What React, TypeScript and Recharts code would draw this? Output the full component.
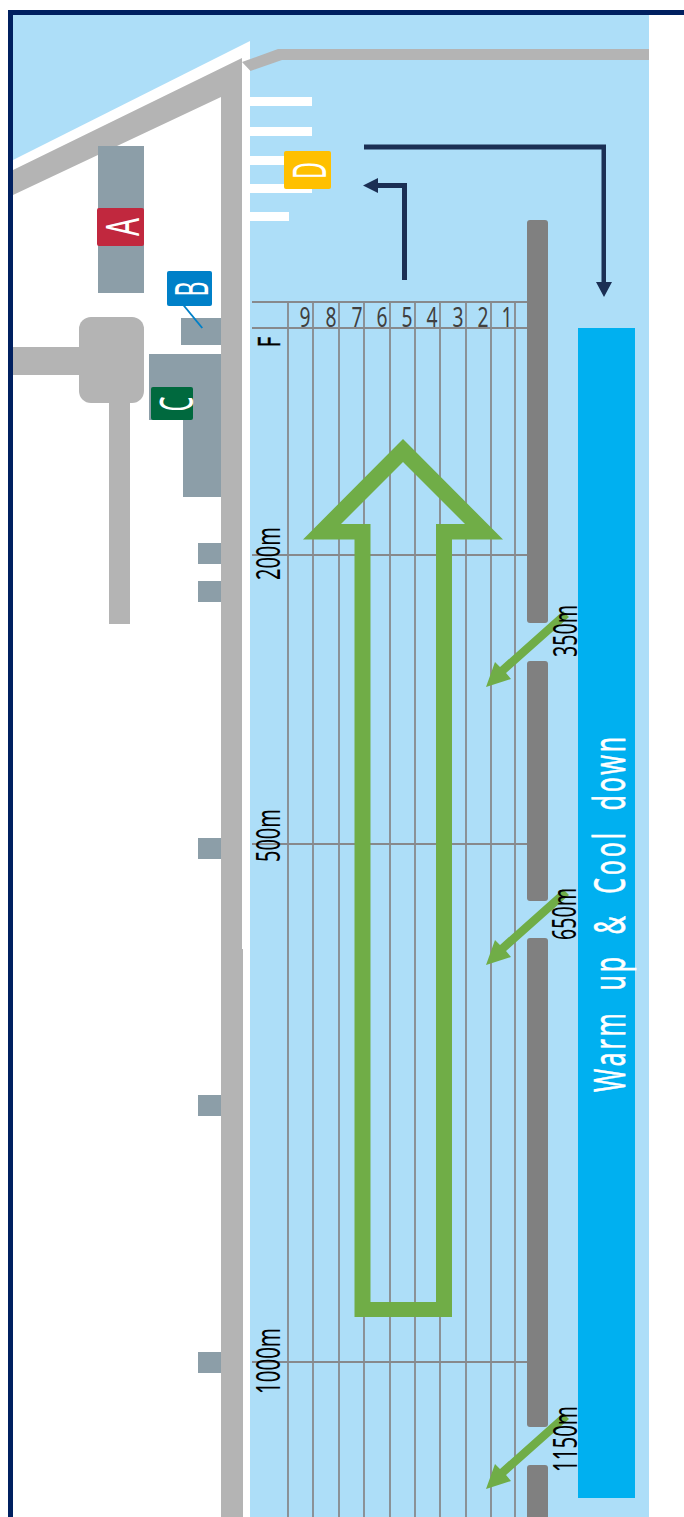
import React from "react";
import { ScatterChart, Scatter, XAxis, YAxis, Rectangle } from "recharts";

type P = [number, number];
const W = 684;
const H = 1517;

// Scene geometry, all in chart units
const waterArea: P[] = [[13, 15], [649, 15], [649, 1517], [13, 1517]];
const landArea: P[] = [[13, 160], [250, 41], [250, 1517], [13, 1517]];
const embankment: P[] = [[13, 170], [242, 58], [242, 949], [243, 949], [243, 1517], [221, 1517], [221, 97], [13, 195]];
const pier: P[] = [[242, 62], [278, 49], [649, 49], [649, 60], [282, 60], [250.5, 71]];
const dockSpans: number[][] = [[97, 106, 312], [127, 136, 312], [156, 165, 312], [184, 193, 312], [212, 221, 289]];
const buildingRects: number[][] = [
  [98, 146, 144, 293], [181, 318, 221, 345], [198, 543, 221, 564], [198, 581, 221, 602],
  [198, 838, 221, 859], [198, 1095, 221, 1116], [198, 1352, 221, 1373],
];
const buildingC: P[] = [[149, 354], [221, 354], [221, 497], [183, 497], [183, 420], [149, 420]];
const roadRects: number[][] = [[13, 347, 80, 375], [109, 400, 130, 624]];
const plaza: number[] = [79, 317, 144, 403];

const laneLineX = [288, 313, 339, 364, 390, 415, 440, 466, 491, 515];
const laneNumbers = ["9", "8", "7", "6", "5", "4", "3", "2", "1"];
const laneNumberX = [305, 331, 357, 382, 407, 432, 458, 483, 507];
const distanceLineY = [302, 328, 555, 844, 1362];

const railSpans: number[][] = [[220, 623], [661, 901], [938, 1427], [1465, 1530]];
const warmUpLane: number[] = [578, 328, 635, 1498];

const bigArrow: P[] = [
  [403, 439], [503, 539.5], [452, 539.5], [452, 1317], [354.5, 1317], [354.5, 539.5], [303, 539.5],
  [403, 439], [403, 462], [341, 524], [370.5, 524], [370.5, 1302], [436, 1302], [436, 524], [465, 524], [403, 462],
];
const exitArrowTipY = [687, 965, 1489];
const exitArrowShape: P[] = [[486, 0], [495, -25], [500, -20], [563, -76], [569, -70], [506, -14], [511, -8]];
const navyArrowLong: P[] = [[364, 144.5], [606, 144.5], [606, 282], [612, 282], [604, 297], [596, 282], [601.5, 282], [601.5, 149.5], [364, 149.5]];
const navyArrowShort: P[] = [[407, 280], [407, 183], [378, 183], [378, 178], [363, 185.5], [378, 193], [378, 188], [402, 188], [402, 280]];
const borderLeft: number[] = [8, 10, 13, 1517];
const borderTop: number[] = [8, 10, 684, 15];
const leaderB: P[] = [[183, 306], [184.5, 305], [203, 327.5], [201.5, 328.5]];

const badgeRects: number[][] = [[97, 208, 144, 246], [167, 271, 212, 306], [151, 387, 193, 420], [284, 151, 331, 189]];
const badgeColors = ["#c1283e", "#0080c8", "#00693e", "#ffc000"];
const badgeLetters = ["A", "B", "C", "D"];
const badgeLetterPos: P[] = [[139, 227], [207.5, 289], [192.5, 404], [325.5, 170.5]];
const badgeLetterLen = [18, 15, 15, 17];

const distanceLabels = ["200m", "500m", "1000m", "350m", "650m", "1150m"];
const distanceLabelPos: P[] = [[280, 553.5], [280, 835.5], [280, 1361], [577, 631], [576, 914], [577, 1439]];
const distanceLabelLen = [53, 53, 66, 52, 52, 66];

const NAVY = "#002060";
const GREY = "#b4b4b4";
const BLDG = "#8c9ea8";
const LINE = "#87898c";
const GREEN = "#70ad47";
const FONT = "'Noto Sans', 'Open Sans', sans-serif";

const toData = (pts: P[]) => pts.map(([x, y]) => ({ x, y }));
const box = (r: number[]): P[] => [[r[0], r[1]], [r[2], r[1]], [r[2], r[3]], [r[0], r[3]]];
const noDot = () => <g />;

const polyLine = (fill: string) => (p: any) => (
  <path
    d={"M" + p.points.map((q: any) => `${q.x},${q.y}`).join("L") + "Z"}
    fill={fill}
    stroke="none"
    fillRule="evenodd"
  />
);
const roundLine = (fill: string, radius: number) => (p: any) => {
  const [a, b, c] = [p.points[0], p.points[1], p.points[2]];
  return <Rectangle x={a.x} y={a.y} width={b.x - a.x} height={c.y - a.y} radius={radius} fill={fill} stroke="none" />;
};

const Poly = (pts: P[], fill: string, key: string) => (
  <Scatter key={key} data={toData(pts)} line={polyLine(fill)} lineJointType="linear" shape={noDot} isAnimationActive={false} />
);
const Round = (r: number[], fill: string, radius: number, key: string) => (
  <Scatter key={key} data={toData(box(r))} line={roundLine(fill, radius)} shape={noDot} isAnimationActive={false} />
);
const Label = (pos: P, text: string, len: number, size: number, fill: string, key: string, extra: React.CSSProperties = {}) => (
  <Scatter
    key={key}
    data={toData([pos])}
    isAnimationActive={false}
    shape={(p: any) => (
      <text
        transform={`rotate(-90 ${p.cx} ${p.cy})`}
        x={p.cx}
        y={p.cy}
        textAnchor="middle"
        fontFamily={FONT}
        fontSize={size}
        fill={fill}
        textLength={len}
        lengthAdjust="spacingAndGlyphs"
        style={extra}
      >
        {text}
      </text>
    )}
  />
);
const Digit = (x: number, text: string, key: string) => (
  <Scatter
    key={key}
    data={[{ x, y: 327 }]}
    isAnimationActive={false}
    shape={(p: any) => (
      <text
        x={p.cx}
        y={p.cy}
        textAnchor="middle"
        fontFamily={FONT}
        fontSize={28}
        fill="#404040"
        textLength={11}
        lengthAdjust="spacingAndGlyphs"
      >
        {text}
      </text>
    )}
  />
);

export default function App() {
  return (
    <div style={{ position: "absolute", left: 0, top: 0, width: W, height: H, overflow: "hidden" }}>
      <ScatterChart width={W} height={H} margin={{ top: 0, right: 0, bottom: 0, left: 0 }}>
        <XAxis type="number" dataKey="x" domain={[0, W]} hide allowDataOverflow />
        <YAxis type="number" dataKey="y" domain={[0, H]} reversed hide allowDataOverflow />

        {Poly(waterArea, "#addef8", "water")}
        {Poly(landArea, "#ffffff", "land")}
        {Poly(embankment, GREY, "embankment")}
        {Poly(pier, GREY, "pier")}
        {dockSpans.map((d, i) => Poly(box([250, d[0], d[2], d[1]]), "#ffffff", `dock${i}`))}
        {roadRects.map((r, i) => Poly(box(r), GREY, `road${i}`))}
        {Round(plaza, GREY, 12, "plaza")}
        {buildingRects.map((r, i) => Poly(box(r), BLDG, `bldg${i}`))}
        {Poly(buildingC, BLDG, "bldgC")}

        {laneLineX.map((x, i) => Poly(box([x - 0.9, 302, x + 0.9, 1517]), LINE, `lane${i}`))}
        {distanceLineY.map((y, i) => Poly(box([252, y - 0.9, 527, y + 0.9]), LINE, `dist${i}`))}

        {railSpans.map((s, i) => Round([527, s[0], 548, s[1]], "#808080", 3, `rail${i}`))}
        {Poly(box(warmUpLane), "#00b0f0", "warmup")}

        {Poly(bigArrow, GREEN, "bigArrow")}
        {exitArrowTipY.map((tip, i) =>
          Poly(exitArrowShape.map(([x, dy]) => [x, tip + dy] as P), GREEN, `exit${i}`)
        )}
        {Poly(navyArrowLong, "#1b2f54", "navyLong")}
        {Poly(navyArrowShort, "#1b2f54", "navyShort")}

        {Poly(box(borderLeft), NAVY, "borderL")}
        {Poly(box(borderTop), NAVY, "borderT")}

        {Poly(leaderB, "#0080c8", "leaderB")}
        {badgeRects.map((r, i) => Round(r, badgeColors[i], 2, `badge${i}`))}
        {badgeLetters.map((t, i) => Label(badgeLetterPos[i], t, badgeLetterLen[i], 45, "#ffffff", `letter${i}`))}

        {laneNumbers.map((t, i) => Digit(laneNumberX[i], t, `num${i}`))}
        {distanceLabels.map((t, i) => Label(distanceLabelPos[i], t, distanceLabelLen[i], 32, "#000000", `distLabel${i}`))}
        {Label([279.5, 342], "F", 10.5, 31, "#000000", "finish", { stroke: "#000000", strokeWidth: 0.4 })}
        {Label([625, 913], "Warm up & Cool down", 358, 44, "#ffffff", "warmLabel", { letterSpacing: 5, wordSpacing: 18, stroke: "#ffffff", strokeWidth: 0.6 })}
      </ScatterChart>
    </div>
  );
}
